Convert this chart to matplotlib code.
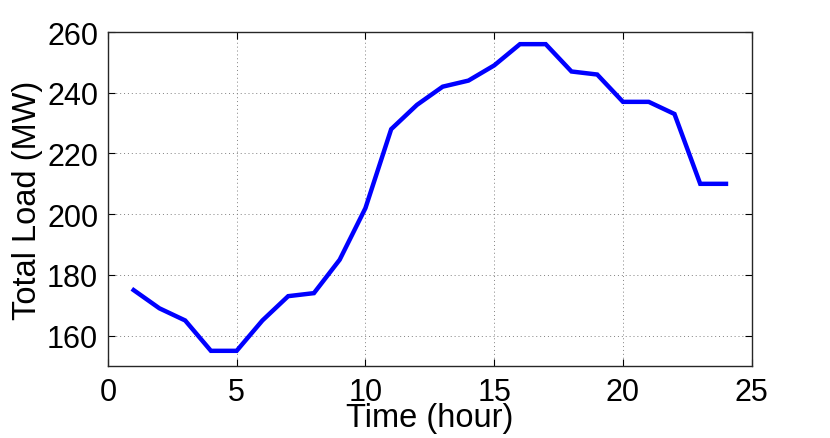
import matplotlib
matplotlib.use("Agg")
import matplotlib.pyplot as plt

# hourly total load
hours = [1, 2, 3, 4, 5, 6, 7, 8, 9, 10, 11, 12,
         13, 14, 15, 16, 17, 18, 19, 20, 21, 22, 23, 24]
load_mw = [175, 169, 165, 155, 155, 165, 173, 174, 185, 202, 228, 236,
           242, 244, 249, 256, 256, 247, 246, 237, 237, 233, 210, 210]

x_ticks = [0, 5, 10, 15, 20, 25]
y_ticks = [160, 180, 200, 220, 240, 260]

plt.rcParams["font.family"] = ["Liberation Sans", "DejaVu Sans"]

fig = plt.figure(figsize=(8.3, 4.39), dpi=100)
ax = fig.add_axes([0.130, 0.164, 0.7757, 0.7608])

ax.plot(hours, load_mw, color="#0000ff", linewidth=3.2, solid_joinstyle="miter")

ax.set_xlim(0, 25)
ax.set_ylim(150, 260)
ax.set_xticks(x_ticks)
ax.set_yticks(y_ticks)
ax.grid(True, linestyle=(0, (1, 3)), color="#808080", linewidth=0.7)

ax.tick_params(direction="in", top=True, right=True, length=5,
               width=0.8, labelsize=22, pad=7, colors="#000000")
ax.tick_params(axis="x", pad=8)
for side in ("left", "right", "top", "bottom"):
    ax.spines[side].set_linewidth(1.0)
    ax.spines[side].set_color("#262626")

ax.set_xlabel("Time (hour)", fontsize=23.5, labelpad=-4)
ax.set_ylabel("Total Load (MW)", fontsize=23.5, labelpad=3)

fig.savefig("out.png", dpi=100)
